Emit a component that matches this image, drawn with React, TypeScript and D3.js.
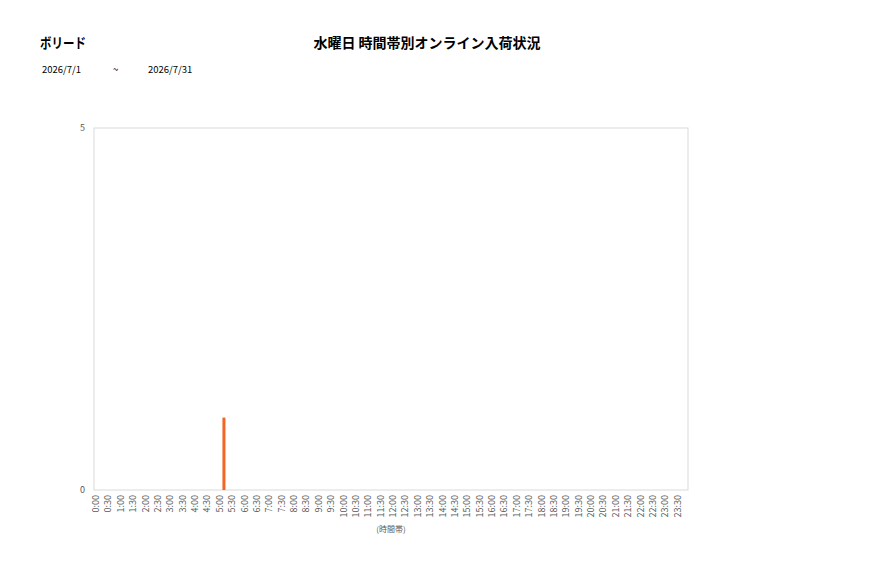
import * as d3 from "d3";

const shopName = "ボリード";
const chartTitle = "水曜日 時間帯別オンライン入荷状況";
const dateFrom = "2026/7/1";
const dateTo = "2026/7/31";
const xTitle = "(時間帯)";

const timeSlots = [
  "0:00", "0:30", "1:00", "1:30", "2:00", "2:30", "3:00", "3:30",
  "4:00", "4:30", "5:00", "5:30", "6:00", "6:30", "7:00", "7:30",
  "8:00", "8:30", "9:00", "9:30", "10:00", "10:30", "11:00", "11:30",
  "12:00", "12:30", "13:00", "13:30", "14:00", "14:30", "15:00", "15:30",
  "16:00", "16:30", "17:00", "17:30", "18:00", "18:30", "19:00", "19:30",
  "20:00", "20:30", "21:00", "21:30", "22:00", "22:30", "23:00", "23:30",
];
const arrivals = [
  0, 0, 0, 0, 0, 0, 0, 0, 0, 0, 1, 0, 0, 0, 0, 0,
  0, 0, 0, 0, 0, 0, 0, 0, 0, 0, 0, 0, 0, 0, 0, 0,
  0, 0, 0, 0, 0, 0, 0, 0, 0, 0, 0, 0, 0, 0, 0, 0,
];
const yTicks = [0, 5];

const W = 877;
const H = 578;
const plot = { left: 94, right: 688, top: 128, bottom: 490 };
const font = "'Noto Sans CJK JP', 'Noto Sans', sans-serif";

const App = () => {
  const x = d3.scaleBand<string>().domain(timeSlots).range([plot.left, plot.right]);
  const y = d3.scaleLinear().domain([0, 5]).range([plot.bottom, plot.top]);
  const barW = 3;

  return (
    <svg width={W} height={H} style={{ position: "absolute", left: 0, top: 0 }}>
      <rect width={W} height={H} fill="#fff" />
      <text x={40} y={48} fontFamily={font} fontSize={14} fontWeight="bold" fill="#000"
        textLength={46} lengthAdjust="spacingAndGlyphs">{shopName}</text>
      <text x={427} y={48} fontFamily={font} fontSize={14} fontWeight="bold" fill="#000" textAnchor="middle">{chartTitle}</text>
      <text x={42} y={73} fontFamily={font} fontSize={9.5} fill="#000">{dateFrom}</text>
      <text x={113} y={73} fontFamily={font} fontSize={9.5} fill="#000">~</text>
      <text x={148} y={73} fontFamily={font} fontSize={9.5} fill="#000">{dateTo}</text>

      <rect x={plot.left} y={plot.top} width={plot.right - plot.left} height={plot.bottom - plot.top}
        fill="none" stroke="#d9d9d9" strokeWidth={1} />

      {yTicks.map(t => (
        <text key={t} x={85} y={y(t) + 3} fontFamily={font} fontSize={9} fill="#595959" textAnchor="end">{t}</text>
      ))}

      {timeSlots.map((s, i) => arrivals[i] > 0 && (
        <rect key={s} x={x(s)! + x.bandwidth() / 2 - barW / 2} y={y(arrivals[i])}
          width={barW} height={y(0) - y(arrivals[i])} fill="#f26522" />
      ))}

      {timeSlots.map(s => {
        const lx = x(s)! + 5;
        return (
          <text key={s} transform={`translate(${lx},495) rotate(-90)`} fontFamily={font} fontSize={9}
            fill="#595959" textAnchor="end">{s}</text>
        );
      })}

      <text x={391} y={532} fontFamily={font} fontSize={8} fill="#595959" textAnchor="middle">{xTitle}</text>
    </svg>
  );
};

export default App;
